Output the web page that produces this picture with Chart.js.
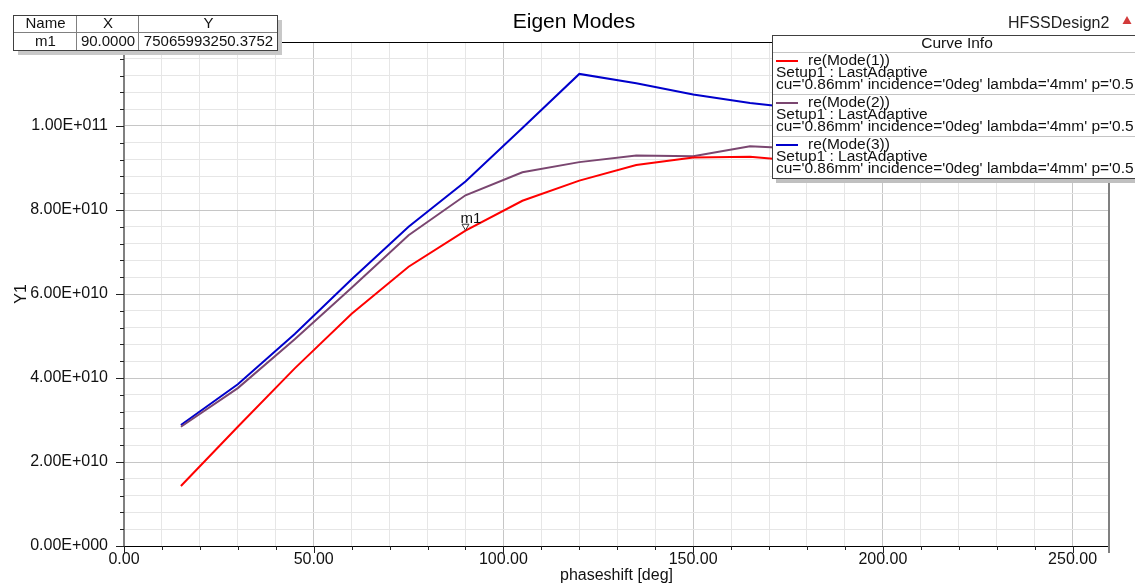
<!DOCTYPE html>
<html>
<head>
<meta charset="utf-8">
<script src="https://cdn.jsdelivr.net/npm/chart.js@4.4.1/dist/chart.umd.min.js"></script>
<style>
  html, body { margin: 0; padding: 0; background: #fff; }
  #wrap { width: 1135px; height: 583px; }
</style>
</head>
<body>
<div id="wrap"><canvas id="c" width="1135" height="583"></canvas></div>
<script>
// phaseshift [deg] 별 고유모드 주파수
const phase = [15, 30, 45, 60, 75, 90, 105, 120, 135, 150, 165, 180];
const mode1 = [1.43e10, 2.84e10, 4.23e10, 5.53e10, 6.65e10, 75065993250.3752, 8.22e10, 8.70e10, 9.07e10, 9.25e10, 9.27e10, 9.15e10];
const mode2 = [2.84e10, 3.76e10, 4.92e10, 6.15e10, 7.40e10, 8.35e10, 8.90e10, 9.14e10, 9.30e10, 9.28e10, 9.52e10, 9.45e10];
const mode3 = [2.88e10, 3.85e10, 5.05e10, 6.35e10, 7.60e10, 8.68e10, 9.95e10, 11.24e10, 11.02e10, 10.75e10, 10.55e10, 10.40e10];

const modeNames = ['re(Mode(1))', 're(Mode(2))', 're(Mode(3))'];
const modeColors = ['#ff0000', '#7a4670', '#0000cc'];
const setupText = 'Setup1 : LastAdaptive';
const paramText = "cu='0.86mm' incidence='0deg' lambda='4mm' p='0.5";

const xTicks = [0, 50, 100, 150, 200, 250];
const yTicks = [0, 2e10, 4e10, 6e10, 8e10, 1e11];

const markerName = 'm1';
const markerX = 90;

const FONT = "'Liberation Sans', Arial, sans-serif";

function sci(v) {
  if (v === 0) return '0.00E+000';
  const e = Math.floor(Math.log10(Math.abs(v)));
  const m = v / Math.pow(10, e);
  return m.toFixed(2) + 'E' + (e >= 0 ? '+' : '-') + String(Math.abs(e)).padStart(3, '0');
}

function pts(arr) {
  return phase.map((p, i) => ({ x: p, y: arr[i] }));
}

const overlay = {
  id: 'overlay',
  afterDraw(chart) {
    const ctx = chart.ctx;
    const xs = chart.scales.x, ys = chart.scales.y;
    const a = chart.chartArea;
    ctx.save();

    // 바깥 눈금 (큰 눈금/작은 눈금)
    ctx.strokeStyle = '#222';
    ctx.lineWidth = 1;
    xs.ticks.forEach(t => {
      const px = Math.round(xs.getPixelForValue(t.value)) + 0.5;
      const len = Math.round(t.value) % 50 === 0 ? 7 : 4;
      ctx.beginPath(); ctx.moveTo(px, a.bottom); ctx.lineTo(px, a.bottom + len); ctx.stroke();
    });
    ys.ticks.forEach(t => {
      const py = Math.round(ys.getPixelForValue(t.value)) + 0.5;
      const len = Math.round(t.value / 4e9) % 5 === 0 ? 8 : 4;
      ctx.beginPath(); ctx.moveTo(a.left - len, py); ctx.lineTo(a.left, py); ctx.stroke();
    });

    // 오른쪽 테두리
    ctx.strokeStyle = '#808080';
    ctx.lineWidth = 2;
    ctx.beginPath(); ctx.moveTo(a.right, a.top); ctx.lineTo(a.right, a.bottom + 7); ctx.stroke();

    // 제목
    ctx.fillStyle = '#000';
    ctx.font = '21px ' + FONT;
    ctx.textAlign = 'center';
    ctx.textBaseline = 'alphabetic';
    ctx.fillText('Eigen Modes', 574, 28);

    ctx.font = '16px ' + FONT;
    ctx.textAlign = 'left';
    ctx.fillStyle = '#222';
    ctx.fillText('HFSSDesign2', 1008, 28);
    ctx.fillStyle = '#d23a3a';
    ctx.beginPath(); ctx.moveTo(1127, 16); ctx.lineTo(1131.5, 24); ctx.lineTo(1122.5, 24); ctx.closePath(); ctx.fill();

    // 마커 m1
    const i = phase.indexOf(markerX);
    const mx = xs.getPixelForValue(markerX), my = ys.getPixelForValue(mode1[i]);
    ctx.fillStyle = '#fff';
    ctx.strokeStyle = '#333';
    ctx.lineWidth = 1;
    ctx.beginPath(); ctx.moveTo(mx - 3.5, my - 6.5); ctx.lineTo(mx + 3.5, my - 6.5); ctx.lineTo(mx, my - 0.5); ctx.closePath();
    ctx.fill(); ctx.stroke();
    ctx.fillStyle = '#111';
    ctx.font = '15px ' + FONT;
    ctx.fillText(markerName, mx - 5, my - 8);

    // 마커 표
    const cols = [13, 76, 138, 277];
    const rows = [15, 32, 50];
    ctx.fillStyle = '#c8c8c8';
    ctx.fillRect(cols[0] + 5, rows[2], cols[3] - cols[0], 5);
    ctx.fillRect(cols[3], rows[0] + 5, 5, rows[2] - rows[0]);
    ctx.fillStyle = '#fff';
    ctx.fillRect(cols[0], rows[0], cols[3] - cols[0], rows[2] - rows[0]);
    ctx.strokeStyle = '#808080';
    ctx.beginPath();
    ctx.moveTo(cols[0], rows[1] + 0.5); ctx.lineTo(cols[3], rows[1] + 0.5);
    ctx.moveTo(cols[1] + 0.5, rows[0]); ctx.lineTo(cols[1] + 0.5, rows[2]);
    ctx.moveTo(cols[2] + 0.5, rows[0]); ctx.lineTo(cols[2] + 0.5, rows[2]);
    ctx.stroke();
    ctx.strokeStyle = '#404040';
    ctx.strokeRect(cols[0] + 0.5, rows[0] + 0.5, cols[3] - cols[0], rows[2] - rows[0]);
    ctx.fillStyle = '#111';
    ctx.font = '15px ' + FONT;
    ctx.textAlign = 'center';
    ctx.textBaseline = 'middle';
    const head = ['Name', 'X', 'Y'];
    const vals = [markerName, markerX.toFixed(4), mode1[i].toFixed(4)];
    for (let c = 0; c < 3; c++) {
      const cx = (cols[c] + cols[c + 1]) / 2 + 1;
      ctx.fillText(head[c], cx, 24);
      ctx.fillText(vals[c], cx, 42);
    }

    // 범례 (Curve Info)
    const L = 772, T = 35, R = 1142, B = 178;
    ctx.fillStyle = '#c0c0c0';
    ctx.fillRect(L + 4, B, R - L, 5);
    ctx.fillStyle = '#fff';
    ctx.fillRect(L, T, R - L, B - T);
    ctx.strokeStyle = '#c4c4c4';
    ctx.lineWidth = 1;
    ctx.beginPath();
    ctx.moveTo(L, 52.5); ctx.lineTo(R, 52.5);
    ctx.moveTo(L, 94.5); ctx.lineTo(R, 94.5);
    ctx.moveTo(L, 136.5); ctx.lineTo(R, 136.5);
    ctx.stroke();
    ctx.strokeStyle = '#404040';
    ctx.strokeRect(L + 0.5, T + 0.5, R - L, B - T);
    ctx.fillStyle = '#111';
    ctx.font = '15.5px ' + FONT;
    ctx.textAlign = 'center';
    ctx.fillText('Curve Info', 957, 44);
    ctx.textAlign = 'left';
    for (let k = 0; k < 3; k++) {
      const top = 52 + k * 42;
      ctx.strokeStyle = modeColors[k];
      ctx.lineWidth = 2;
      ctx.beginPath(); ctx.moveTo(776, top + 9); ctx.lineTo(798, top + 9); ctx.stroke();
      ctx.fillStyle = '#111';
      ctx.fillText(modeNames[k], 808, top + 9);
      ctx.fillText(setupText, 776, top + 21);
      ctx.fillText(paramText, 776, top + 33);
    }
    ctx.restore();
  }
};

new Chart(document.getElementById('c'), {
  type: 'line',
  data: {
    datasets: [mode1, mode2, mode3].map((arr, k) => ({
      label: modeNames[k],
      data: pts(arr),
      borderColor: modeColors[k],
      borderWidth: 2,
      pointRadius: 0,
      tension: 0,
      fill: false
    }))
  },
  options: {
    responsive: false,
    animation: false,
    devicePixelRatio: 1,
    layout: { padding: { top: 42, right: 26, left: 0, bottom: 0 } },
    plugins: { legend: { display: false }, title: { display: false }, tooltip: { enabled: false } },
    scales: {
      x: {
        type: 'linear',
        min: 0,
        max: 259.6,
        afterFit: s => { s.height = 37; },
        // 0~250 사이 10 간격 눈금만 사용
        afterBuildTicks: s => {
          const t = [];
          for (let v = 0; v <= 250; v += 10) t.push({ value: v });
          s.ticks = t;
        },
        ticks: {
          stepSize: 10,
          autoSkip: false,
          maxRotation: 0,
          padding: 4,
          color: '#111',
          font: { family: FONT, size: 16 },
          callback: v => xTicks.includes(Math.round(v)) ? Math.round(v).toFixed(2) : ''
        },
        grid: {
          drawTicks: false,
          color: c => (Math.round(c.tick.value) % 50 === 0 ? '#c6c6c6' : '#e6e6e6')
        },
        border: { color: '#000', width: 1 },
        title: {
          display: true,
          text: 'phaseshift [deg]',
          color: '#111',
          font: { family: FONT, size: 16, lineHeight: 1 },
          padding: { top: 0, bottom: -1 }
        }
      },
      y: {
        min: 0,
        max: 1.2e11,
        afterFit: s => { s.width = 124; },
        ticks: {
          stepSize: 4e9,
          autoSkip: false,
          padding: 16,
          color: '#111',
          font: { family: FONT, size: 16 },
          callback: v => {
            const r = Math.round(v / 4e9) * 4e9;
            return yTicks.includes(r) ? sci(r) : '';
          }
        },
        grid: {
          drawTicks: false,
          color: c => {
            const k = Math.round(c.tick.value / 4e9);
            if (k === 30) return '#000';
            return k % 5 === 0 ? '#c6c6c6' : '#e6e6e6';
          }
        },
        border: { color: '#808080', width: 2 },
        title: {
          display: true,
          text: 'Y1',
          color: '#111',
          font: { family: FONT, size: 16, lineHeight: 1 },
          padding: { top: 14, bottom: 0 }
        }
      }
    }
  },
  plugins: [overlay]
});
</script>
</body>
</html>
